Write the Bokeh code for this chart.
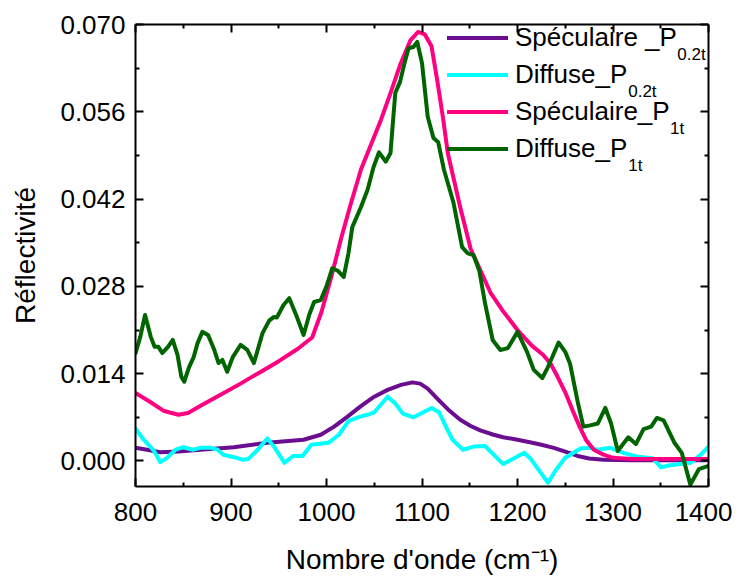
from bokeh.plotting import figure
from bokeh.models import (Range1d, LinearAxis, FixedTicker, NumeralTickFormatter,
                          Legend, LegendItem, Label, CustomJSTickFormatter)
from bokeh.embed import file_html
from bokeh.resources import INLINE

# ---------------- data ----------------
wn_spec02 = [800, 815, 826, 845, 868, 903, 938, 976, 994, 1008, 1022, 1036, 1050, 1064,
             1078, 1090, 1098, 1106, 1116, 1127, 1140, 1151, 1161, 1175, 1185, 1200, 1213,
             1225, 1238, 1250, 1263, 1275, 1290, 1320, 1400]
r_spec02 = [0.0021, 0.0017, 0.0014, 0.0015, 0.0018, 0.0022, 0.0029, 0.0034, 0.0042, 0.0055,
            0.0071, 0.0088, 0.0103, 0.0114, 0.0122, 0.0126, 0.0124, 0.0116, 0.0100, 0.0083,
            0.0066, 0.0056, 0.0049, 0.0042, 0.0038, 0.0034, 0.0030, 0.0026, 0.0021, 0.0015,
            0.0008, 0.0004, 0.0002, 0.0001, 0.0001]

wn_diff02 = [800, 808, 819, 826, 833, 842, 850, 860, 868, 879, 886, 892, 903, 912, 918, 928,
             938, 945, 956, 965, 975, 984, 1002, 1013, 1023, 1035, 1043, 1050, 1064, 1072,
             1080, 1091, 1100, 1110, 1118, 1125, 1132, 1143, 1154, 1166, 1175, 1185, 1195,
             1207, 1214, 1221, 1232, 1240, 1250, 1266, 1275, 1284, 1297, 1311, 1325, 1342,
             1350, 1360, 1381, 1392, 1400]
r_diff02 = [0.0052, 0.0035, 0.0017, -0.0002, 0.0005, 0.0018, 0.0022, 0.0018, 0.0021, 0.0021,
            0.0018, 0.0010, 0.0006, 0.0002, 0.0003, 0.0018, 0.0036, 0.0023, -0.0003, 0.0008,
            0.0008, 0.0026, 0.0029, 0.0042, 0.0064, 0.0071, 0.0074, 0.0078, 0.0103, 0.0092,
            0.0076, 0.0070, 0.0077, 0.0085, 0.0078, 0.0055, 0.0034, 0.0018, 0.0023, 0.0024,
            0.0010, -0.0005, 0.0003, 0.0013, 0.0003, -0.0012, -0.0035, -0.0015, 0.0005,
            0.0020, 0.0021, 0.0018, 0.0021, 0.0013, 0.0007, 0.0004, -0.0010, -0.0007,
            -0.0003, 0.0010, 0.0023]

wn_spec1 = [800, 815, 830, 845, 855, 870, 890, 910, 930, 950, 970, 985, 995, 1005, 1015,
            1025, 1036, 1046, 1057, 1067, 1077, 1088, 1096, 1103, 1110, 1116, 1122, 1127,
            1140, 1151, 1161, 1172, 1185, 1200, 1215, 1227, 1235, 1242, 1250, 1258, 1265,
            1272, 1280, 1290, 1300, 1320, 1350, 1400]
r_spec1 = [0.0109, 0.0095, 0.0080, 0.0074, 0.0077, 0.0090, 0.0107, 0.0124, 0.0142, 0.0160,
           0.0180, 0.0198, 0.0240, 0.0295, 0.0355, 0.0410, 0.0467, 0.0505, 0.0547, 0.0590,
           0.0635, 0.0675, 0.0688, 0.0684, 0.0665, 0.0610, 0.0550, 0.0494, 0.0407, 0.0340,
           0.0306, 0.0269, 0.0240, 0.0210, 0.0185, 0.0170, 0.0155, 0.0135, 0.0110, 0.0080,
           0.0055, 0.0033, 0.0018, 0.0010, 0.0005, 0.0003, 0.0003, 0.0003]

wn_diff1 = [800, 805, 810, 816, 820, 824, 828, 834, 839, 844, 848, 851, 856, 861, 865, 870,
            876, 882, 887, 891, 896, 902, 910, 917, 924, 933, 940, 945, 948, 955, 961, 968,
            976, 982, 987, 994, 1000, 1006, 1012, 1018, 1023, 1027, 1036, 1043, 1049, 1055,
            1062, 1067, 1072, 1077, 1082, 1086, 1091, 1095, 1100, 1106, 1112, 1117, 1123,
            1133, 1142, 1148, 1154, 1160, 1166, 1174, 1182, 1190, 1200, 1210, 1217, 1226,
            1232, 1243, 1250, 1255, 1263, 1269, 1276, 1284, 1292, 1298, 1305, 1316, 1324,
            1332, 1340, 1346, 1353, 1364, 1372, 1381, 1390, 1400]
r_diff1 = [0.0173, 0.0199, 0.0234, 0.0199, 0.0183, 0.0183, 0.0173, 0.0183, 0.0194, 0.0170,
           0.0135, 0.0127, 0.0150, 0.0167, 0.0189, 0.0207, 0.0202, 0.0180, 0.0157, 0.0162,
           0.0143, 0.0167, 0.0186, 0.0178, 0.0157, 0.0205, 0.0225, 0.0231, 0.0230, 0.0250,
           0.0261, 0.0235, 0.0202, 0.0235, 0.0255, 0.0258, 0.0280, 0.0309, 0.0305, 0.0295,
           0.0333, 0.0375, 0.0407, 0.0435, 0.0470, 0.0495, 0.0480, 0.0494, 0.0590, 0.0608,
           0.0640, 0.0662, 0.0664, 0.0672, 0.0638, 0.0552, 0.0518, 0.0511, 0.0467, 0.0414,
           0.0343, 0.0333, 0.0330, 0.0305, 0.0253, 0.0194, 0.0178, 0.0181, 0.0207, 0.0175,
           0.0146, 0.0133, 0.0151, 0.0190, 0.0175, 0.0156, 0.0095, 0.0055, 0.0057, 0.0060,
           0.0085, 0.0060, 0.0016, 0.0038, 0.0027, 0.0051, 0.0055, 0.0069, 0.0065, 0.0030,
           0.0013, -0.0038, -0.0013, -0.0008]

x_ticks = [800, 900, 1000, 1100, 1200, 1300, 1400]
x_minor = [850, 950, 1050, 1150, 1250, 1350]
y_ticks = [0.000, 0.014, 0.028, 0.042, 0.056, 0.070]
y_minor = [0.007, 0.021, 0.035, 0.049, 0.063]

series_names = ["Spéculaire _P", "Diffuse_P", "Spéculaire_P", "Diffuse_P"]
series_subs = ["0.2t", "0.2t", "1t", "1t"]
colors = ["#6a0d91", "#00ffff", "#ff0080", "#006400"]

FONT = "Liberation Sans"

p = figure(width=732, height=577, output_backend="svg", toolbar_location=None,
           x_range=Range1d(800, 1400), y_range=Range1d(-0.0041, 0.070),
           min_border_left=135, min_border_right=24, min_border_top=24,
           min_border_bottom=91)
p.grid.visible = False
p.outline_line_color = None
p.background_fill_color = "white"
p.border_fill_color = "white"

renderers = []
for xs, ys, c in [(wn_spec02, r_spec02, colors[0]), (wn_diff02, r_diff02, colors[1]),
                  (wn_spec1, r_spec1, colors[2]), (wn_diff1, r_diff1, colors[3])]:
    r = p.line(xs, ys, line_color=c, line_width=4, line_join="round", line_cap="round")
    renderers.append(r)


def style(ax):
    ax.axis_line_width = 2
    ax.axis_line_color = "black"
    ax.major_tick_in = 8
    ax.major_tick_out = 0
    ax.minor_tick_in = 4
    ax.minor_tick_out = 0
    ax.major_tick_line_width = 2
    ax.minor_tick_line_width = 2
    ax.major_tick_line_color = "black"
    ax.minor_tick_line_color = "black"
    ax.major_label_text_font = FONT
    ax.major_label_text_color = "black"
    ax.major_label_text_font_size = "26px"
    ax.axis_label_text_font = FONT
    ax.axis_label_text_font_style = "normal"
    ax.axis_label_text_color = "black"
    ax.axis_label_text_font_size = "28px"


p.xaxis.ticker = FixedTicker(ticks=x_ticks, minor_ticks=x_minor)
p.yaxis.ticker = FixedTicker(ticks=y_ticks, minor_ticks=y_minor)
p.yaxis.formatter = NumeralTickFormatter(format="0.000")
style(p.xaxis[0])
style(p.yaxis[0])
p.xaxis.axis_label = "Nombre d'onde (cm\u207b\u00b9)"
p.yaxis.axis_label = "Réflectivité"
p.xaxis.major_label_standoff = 16
p.xaxis.axis_label_standoff = 20
p.yaxis.major_label_standoff = 10
p.yaxis.axis_label_standoff = 16

blank = CustomJSTickFormatter(code="return ''")
top_ax = LinearAxis(ticker=FixedTicker(ticks=x_ticks, minor_ticks=x_minor), formatter=blank)
style(top_ax)
top_ax.major_label_standoff = 0
p.add_layout(top_ax, "above")
right_ax = LinearAxis(ticker=FixedTicker(ticks=y_ticks, minor_ticks=y_minor), formatter=blank)
style(right_ax)
right_ax.major_label_standoff = 0
p.add_layout(right_ax, "right")

legend = Legend(items=[LegendItem(label=n, renderers=[r]) for n, r in zip(series_names, renderers)],
                location=(312, 319), orientation="vertical",
                padding=0, margin=0, spacing=0, glyph_width=61, glyph_height=37,
                label_height=37, label_standoff=7,
                label_text_font=FONT, label_text_font_size="26px", label_text_color="black",
                border_line_color=None, background_fill_alpha=0)
p.add_layout(legend)

# subscripts of the legend labels (screen units, from frame bottom-left)
em = {"S": 0.667, "p": 0.556, "é": 0.556, "c": 0.5, "u": 0.556, "l": 0.222, "a": 0.556,
      "i": 0.222, "r": 0.333, "e": 0.556, " ": 0.278, "_": 0.556, "P": 0.667, "D": 0.722,
      "f": 0.278, "s": 0.5}
label_x0 = 312 + 61 + 7
row_center = [449, 412, 375, 338]
for i, (n, s) in enumerate(zip(series_names, series_subs)):
    w = sum(em[ch] for ch in n) * 26
    p.add_layout(Label(x=label_x0 + w, y=row_center[i] - 17, x_units="screen", y_units="screen",
                       text=s, text_font=FONT, text_font_size="17px", text_color="black",
                       text_baseline="alphabetic", text_align="left"))

open("out.html", "w").write(file_html(p, INLINE))
